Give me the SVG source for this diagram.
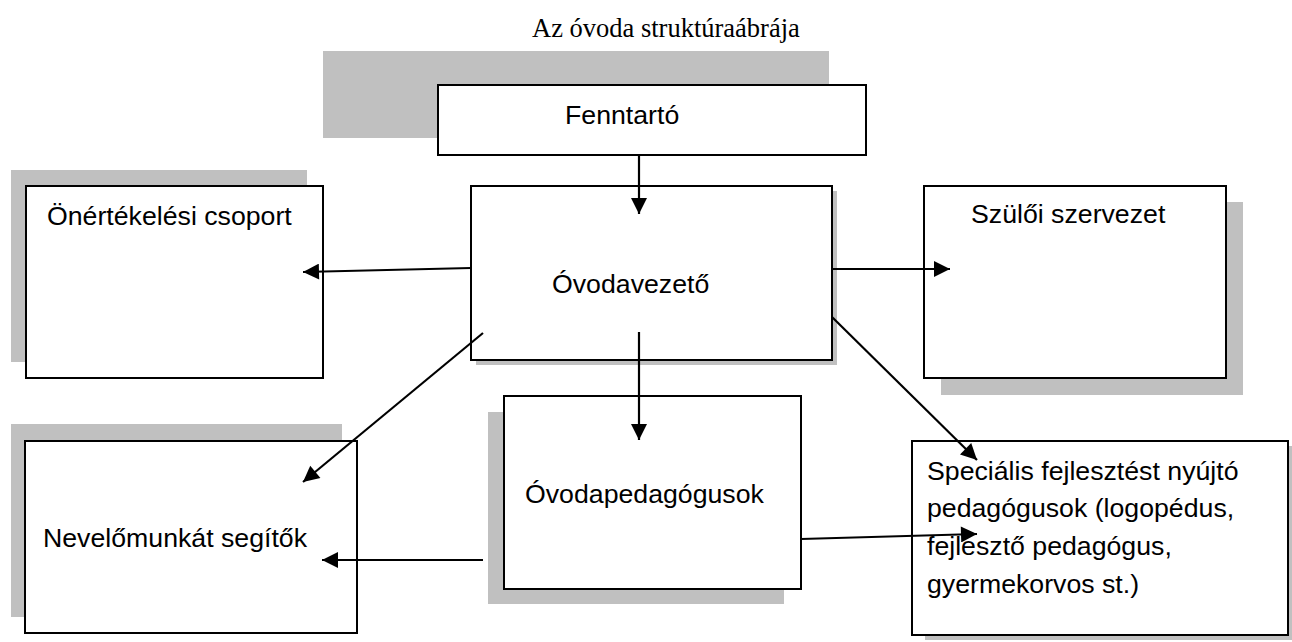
<svg xmlns="http://www.w3.org/2000/svg" width="1292" height="642" viewBox="0 0 1292 642">
<style>
.box{fill:#fff;stroke:#000;stroke-width:2}
.sh{fill:#c0c0c0}
.t{font-family:"Liberation Sans",Arial,sans-serif;font-size:26.7px;fill:#000}
.ttl{font-family:"Liberation Serif","Times New Roman",serif;font-size:26.5px;fill:#000}
.c{stroke:#000;stroke-width:2.2;fill:none;marker-end:url(#ah)}
</style>
<defs>
<marker id="ah" markerUnits="userSpaceOnUse" markerWidth="18" markerHeight="16" viewBox="0 0 16 16" refX="16" refY="8" orient="auto">
<path d="M0,0 L16,8 L0,16 Z" fill="#000"/>
</marker>
</defs>
<rect width="1292" height="642" fill="#fff"/>
<text class="ttl" x="532" y="37">Az óvoda struktúraábrája</text>
<g id="fenntarto">
<rect class="sh" x="323" y="51" width="506" height="87"/>
<rect class="box" x="438" y="85" width="428" height="70"/>
<text class="t" x="565" y="124">Fenntartó</text>
</g>
<g id="onertekelesi">
<rect class="sh" x="11" y="170" width="296" height="192"/>
<rect class="box" x="26" y="186" width="297" height="192"/>
<text class="t" x="47" y="225">Önértékelési csoport</text>
</g>
<g id="ovodavezeto">
<rect class="sh" x="476" y="191" width="361" height="174"/>
<rect class="box" x="471" y="186" width="361" height="174"/>
<text class="t" x="552" y="293">Óvodavezető</text>
</g>
<g id="szuloi">
<rect class="sh" x="941" y="202" width="302" height="193"/>
<rect class="box" x="924" y="186" width="302" height="192"/>
<text class="t" x="971" y="223">Szülői szervezet</text>
</g>
<g id="nevelo">
<rect class="sh" x="11" y="424" width="331" height="193"/>
<rect class="box" x="25" y="441" width="332" height="192"/>
<text class="t" x="43" y="547">Nevelőmunkát segítők</text>
</g>
<g id="ovodapedagogusok">
<rect class="sh" x="488" y="412" width="296" height="192"/>
<rect class="box" x="504" y="396" width="297" height="193"/>
<text class="t" x="525" y="503">Óvodapedagógusok</text>
</g>
<g id="specialis">
<rect class="sh" x="925" y="446" width="367" height="194"/>
<rect class="box" x="912" y="441" width="376" height="194"/>
<text class="t" x="927" y="480">Speciális fejlesztést nyújtó</text>
<text class="t" x="927" y="517">pedagógusok (logopédus,</text>
<text class="t" x="927" y="555">fejlesztő pedagógus,</text>
<text class="t" x="927" y="593">gyermekorvos st.)</text>
</g>
<g id="connectors">
<line class="c" x1="639" y1="155" x2="639" y2="214"/>
<line class="c" x1="471" y1="268" x2="303" y2="272"/>
<line class="c" x1="832" y1="269" x2="950" y2="269"/>
<line class="c" x1="639" y1="332" x2="639" y2="440"/>
<line class="c" x1="483" y1="333" x2="303" y2="482"/>
<line class="c" x1="832" y1="317" x2="977" y2="460"/>
<line class="c" x1="483" y1="560" x2="322" y2="560"/>
<line class="c" x1="801" y1="539" x2="977" y2="534"/>
</g>
</svg>
